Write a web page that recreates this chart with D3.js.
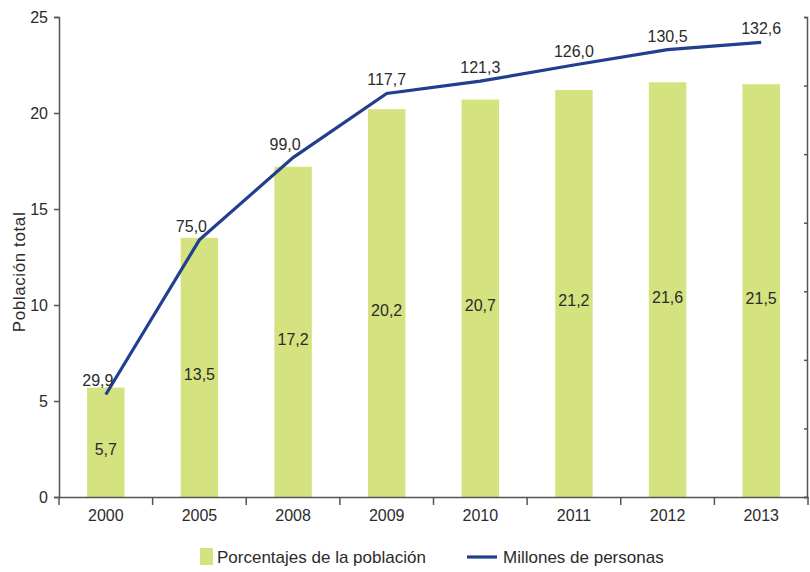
<!DOCTYPE html>
<html>
<head>
<meta charset="utf-8">
<script src="https://cdn.jsdelivr.net/npm/d3@7"></script>
<style>
  body { margin: 0; background: #fff; }
  text { font-family: "Liberation Sans Narrow", "Liberation Sans", Arial, sans-serif; fill: #2b2b2b; }
</style>
</head>
<body>
<div id="chart"></div>
<script>
const years = ["2000", "2005", "2008", "2009", "2010", "2011", "2012", "2013"];
const porcentajes = [5.7, 13.5, 17.2, 20.2, 20.7, 21.2, 21.6, 21.5];
const millones = [29.9, 75.0, 99.0, 117.7, 121.3, 126.0, 130.5, 132.6];
const leftTicks = [0, 5, 10, 15, 20, 25];
const rightTicks = [0, 20, 40, 60, 80, 100, 120, 140];

const margin = { top: 17, right: 2, bottom: 75, left: 59 };
const width = 810 - margin.left - margin.right,
    height = 572 - margin.top - margin.bottom;

const fmt = v => v.toFixed(1).replace(".", ",");

const svg = d3.select("#chart")
    .append("svg")
    .attr("width", 810)
    .attr("height", 572)
    .append("g")
    .attr("transform", "translate(" + margin.left + "," + margin.top + ")");

const x = d3.scaleBand().domain(years).range([0, width]).paddingInner(0.6).paddingOuter(0.3);
const xb = d3.scaleBand().domain(years).range([0, width]);
const yLeft = d3.scaleLinear().domain([0, 25]).range([height, 0]);
const yRight = d3.scaleLinear().domain([0, 140]).range([height, 0]);

// bars
svg.selectAll("rect.bar")
    .data(porcentajes)
    .enter()
    .append("rect")
    .attr("class", "bar")
    .attr("x", (d, i) => x(years[i]))
    .attr("width", x.bandwidth())
    .attr("y", d => yLeft(d))
    .attr("height", d => height - yLeft(d))
    .attr("fill", "#d4e27f");

svg.selectAll("text.barlabel")
    .data(porcentajes)
    .enter()
    .append("text")
    .attr("class", "barlabel")
    .attr("x", (d, i) => x(years[i]) + x.bandwidth() / 2)
    .attr("y", d => (yLeft(d) + height) / 2 + 13)
    .attr("text-anchor", "middle")
    .style("font-size", "16px")
    .text(fmt);

// axes
const axisColor = "#555";
const yAxis = svg.append("g").attr("class", "axis y-axis")
    .call(d3.axisLeft(yLeft).tickValues(leftTicks).tickSize(5).tickPadding(6));
const xAxis = svg.append("g").attr("class", "axis x-axis")
    .attr("transform", "translate(0," + height + ")")
    .call(d3.axisBottom(xb).tickSize(0).tickPadding(13));
const rAxis = svg.append("g").attr("class", "axis r-axis")
    .attr("transform", "translate(" + (width - 1) + ",0)")
    .call(d3.axisLeft(yRight).tickValues(rightTicks).tickSize(3).tickFormat(""));

svg.selectAll(".axis path").attr("stroke", axisColor).attr("stroke-width", 1.5);
svg.selectAll(".axis line").attr("stroke", axisColor).attr("stroke-width", 1.5);
svg.selectAll(".axis text").style("font-size", "16px").attr("fill", "#2b2b2b")
    .style("font-family", "\"Liberation Sans Narrow\", \"Liberation Sans\", Arial, sans-serif");

// category boundary ticks on the x axis
const bounds = years.map(y => xb(y)).concat([width]);
xAxis.selectAll("line.bound")
    .data(bounds)
    .enter()
    .append("line")
    .attr("class", "bound")
    .attr("x1", d => d).attr("x2", d => d)
    .attr("y1", 0).attr("y2", 8)
    .attr("stroke", axisColor).attr("stroke-width", 1.5);

// line
const line = d3.line()
    .x((d, i) => xb(years[i]) + xb.bandwidth() / 2)
    .y(d => yRight(d));

svg.append("path")
    .datum(millones)
    .attr("d", line)
    .attr("fill", "none")
    .attr("stroke", "#213f8e")
    .attr("stroke-width", 3.2);

svg.selectAll("text.linelabel")
    .data(millones)
    .enter()
    .append("text")
    .attr("class", "linelabel")
    .attr("x", (d, i) => xb(years[i]) + xb.bandwidth() / 2 - (i < 3 ? 8 : 0))
    .attr("y", d => yRight(d) - 8)
    .attr("text-anchor", "middle")
    .style("font-size", "16px")
    .text(fmt);

// y title
svg.append("text")
    .attr("transform", "translate(" + (-34) + "," + (height / 2 + 15) + ") rotate(-90)")
    .attr("text-anchor", "middle")
    .style("font-size", "17px")
    .style("letter-spacing", "0.6px")
    .style("font-family", "\"Liberation Sans\", Arial, sans-serif")
    .text("Población total");

// legend
const legend = svg.append("g").attr("transform", "translate(0," + (height + 60) + ")");
legend.append("rect")
    .attr("x", 141).attr("y", -9).attr("width", 13).attr("height", 17)
    .attr("fill", "#d4e27f");
legend.append("text")
    .attr("x", 158).attr("y", 6)
    .style("font-size", "17px")
    .text("Porcentajes de la población");
legend.append("line")
    .attr("x1", 408).attr("x2", 438).attr("y1", 0).attr("y2", 0)
    .attr("stroke", "#213f8e").attr("stroke-width", 3.2);
legend.append("text")
    .attr("x", 444).attr("y", 6)
    .style("font-size", "17px")
    .text("Millones de personas");
</script>
</body>
</html>
